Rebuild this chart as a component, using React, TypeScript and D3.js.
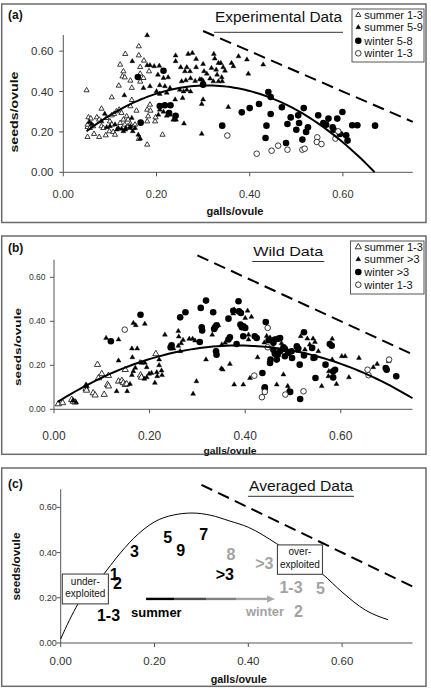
import React from 'react';
import * as d3 from 'd3';

const FONT = '"Liberation Sans", Arial, Helvetica, sans-serif';

// ---------- axis ticks ----------
const X_TICKS = [0, 0.2, 0.4, 0.6];
const Y_TICKS = [0, 0.2, 0.4, 0.6];
const X_MAX = 0.75;
const Y_MAX = 0.68;

// ---------- panel (a): experimental data ----------
const A_SUMMER_13: [number, number][] = [
  [0.05,0.406],[0.052,0.224],[0.054,0.272],[0.059,0.266],[0.052,0.236],[0.057,0.219],[0.052,0.175],[0.064,0.228],
  [0.066,0.19],[0.072,0.272],[0.077,0.261],[0.077,0.175],[0.082,0.228],[0.082,0.315],[0.086,0.219],[0.091,0.183],
  [0.093,0.269],[0.1,0.252],[0.104,0.282],[0.104,0.236],[0.104,0.371],[0.099,0.203],[0.107,0.2],[0.109,0.289],
  [0.111,0.186],[0.114,0.302],[0.119,0.429],[0.12,0.31],[0.122,0.244],[0.122,0.533],[0.125,0.294],[0.127,0.475],
  [0.129,0.5],[0.129,0.261],[0.132,0.47],[0.132,0.236],[0.133,0.586],[0.136,0.277],[0.139,0.261],[0.139,0.228],
  [0.144,0.454],[0.144,0.327],[0.144,0.239],[0.147,0.418],[0.15,0.219],[0.154,0.236],[0.157,0.305],[0.162,0.624],
  [0.162,0.579],[0.162,0.165],[0.165,0.521],[0.165,0.488],[0.172,0.467],[0.173,0.553],[0.18,0.31],[0.18,0.252],
  [0.18,0.137],[0.182,0.277],[0.184,0.5],[0.187,0.305],[0.197,0.252],[0.198,0.272],[0.213,0.186],[0.147,0.358],
  [0.165,0.449],[0.186,0.335]
];
const A_SUMMER_59: [number, number][] = [
  [0.18,0.678],[0.148,0.55],[0.131,0.381],[0.18,0.53],[0.186,0.53],[0.195,0.525],[0.206,0.527],[0.203,0.483],
  [0.215,0.467],[0.225,0.47],[0.207,0.431],[0.218,0.426],[0.229,0.417],[0.172,0.417],[0.186,0.426],[0.2,0.401],
  [0.207,0.388],[0.222,0.393],[0.241,0.578],[0.241,0.55],[0.252,0.52],[0.265,0.52],[0.268,0.586],[0.277,0.591],
  [0.285,0.561],[0.261,0.5],[0.272,0.5],[0.285,0.52],[0.254,0.45],[0.263,0.455],[0.273,0.465],[0.283,0.452],
  [0.293,0.46],[0.3,0.452],[0.25,0.408],[0.258,0.4],[0.265,0.408],[0.273,0.4],[0.24,0.36],[0.256,0.368],
  [0.259,0.241],[0.297,0.19],[0.3,0.36],[0.297,0.338],[0.161,0.186],[0.165,0.167],[0.133,0.211],[0.143,0.219],
  [0.149,0.203],[0.207,0.31],[0.215,0.3],[0.222,0.28],[0.229,0.285],[0.236,0.26],[0.204,0.285],[0.24,0.277],
  [0.242,0.26],[0.056,0.249],[0.061,0.239],[0.1,0.228],[0.111,0.236],[0.118,0.219],[0.125,0.215],[0.134,0.219],
  [0.144,0.228],[0.129,0.203],[0.115,0.211],[0.093,0.223],[0.082,0.252],[0.089,0.289],[0.147,0.269],[0.154,0.219],
  [0.3,0.536],[0.302,0.5],[0.297,0.459],[0.308,0.488],[0.323,0.586],[0.325,0.563],[0.333,0.541],[0.338,0.541],
  [0.318,0.516],[0.328,0.508],[0.343,0.52],[0.347,0.503],[0.34,0.47],[0.333,0.45],[0.322,0.45],[0.341,0.45],
  [0.315,0.464],[0.33,0.483],[0.361,0.541],[0.365,0.525],[0.376,0.574],[0.394,0.558],[0.397,0.488],[0.429,0.533],
  [0.354,0.323]
];
const A_WINTER_58: [number, number][] = [
  [0.16,0.472],[0.215,0.503],[0.166,0.246],[0.207,0.328],[0.218,0.332],[0.23,0.332],[0.227,0.294],[0.241,0.28],
  [0.3,0.434],[0.44,0.398],[0.445,0.373],[0.383,0.297],[0.4,0.318],[0.42,0.338],[0.341,0.231],[0.445,0.289],
  [0.469,0.322],[0.436,0.231],[0.434,0.17],[0.478,0.145],[0.488,0.272],[0.481,0.239],[0.504,0.282],[0.506,0.244],
  [0.5,0.211],[0.516,0.318],[0.525,0.223],[0.521,0.2],[0.513,0.162],[0.547,0.282],[0.558,0.244],[0.564,0.236],
  [0.569,0.266],[0.578,0.223],[0.588,0.266],[0.599,0.299],[0.594,0.19],[0.607,0.183],[0.61,0.157],[0.62,0.233],
  [0.631,0.233],[0.669,0.231],[0.58,0.211]
];
const A_WINTER_13: [number, number][] = [
  [0.352,0.182],[0.415,0.092],[0.447,0.107],[0.461,0.132],[0.481,0.112],[0.513,0.112],[0.518,0.117],[0.545,0.173],
  [0.544,0.15],[0.554,0.14],[0.584,0.167],[0.59,0.203]
];
const A_LEGEND = ['summer 1-3', 'summer 5-9', 'winter 5-8', 'winter 1-3'];
// quadratic trend: y = peak - k (x - x0)^2
const A_TREND = { peak: 0.43, x0: 0.31, k: 3.35, from: 0.05, to: 0.668 };

// ---------- panel (b): wild data ----------
const B_SUMMER_13: [number, number][] = [
  [0.009,0.024],[0.018,0.029],[0.037,0.044],[0.04,0.036],[0.044,0.032],[0.067,0.094],[0.068,0.086],[0.082,0.074],
  [0.086,0.064],[0.091,0.203],[0.093,0.142],[0.1,0.161],[0.105,0.067],[0.112,0.112],[0.114,0.105],[0.114,0.153],
  [0.135,0.127],[0.142,0.13],[0.145,0.12],[0.149,0.112],[0.152,0.115],[0.149,0.18],[0.181,0.155],[0.183,0.145],
  [0.213,0.252]
];
const B_SUMMER_GT3: [number, number][] = [
  [0.04,0.04],[0.046,0.032],[0.067,0.112],[0.069,0.104],[0.109,0.324],[0.135,0.317],[0.135,0.221],[0.131,0.082],
  [0.153,0.082],[0.159,0.115],[0.163,0.155],[0.166,0.173],[0.17,0.188],[0.163,0.276],[0.174,0.276],[0.164,0.236],
  [0.166,0.392],[0.171,0.382],[0.19,0.388],[0.18,0.214],[0.183,0.211],[0.19,0.211],[0.194,0.191],[0.199,0.161],
  [0.204,0.165],[0.194,0.145],[0.189,0.138],[0.215,0.168],[0.22,0.226],[0.22,0.2],[0.225,0.176],[0.226,0.155],
  [0.211,0.12],[0.216,0.15],[0.232,0.339],[0.244,0.276],[0.25,0.276],[0.26,0.288],[0.266,0.3],[0.27,0.315],
  [0.26,0.355],[0.261,0.33],[0.283,0.32],[0.29,0.32],[0.295,0.312],[0.291,0.07],[0.298,0.127],[0.318,0.226],
  [0.331,0.339],[0.353,0.18],[0.351,0.294],[0.264,0.264],[0.377,0.453],[0.375,0.435],[0.4,0.415],[0.405,0.448],
  [0.413,0.42],[0.344,0.382],[0.358,0.302],[0.368,0.206],[0.35,0.185],[0.407,0.339],[0.407,0.317],[0.426,0.236],
  [0.41,0.142],[0.377,0.112],[0.396,0.112],[0.44,0.303],[0.445,0.333],[0.452,0.326],[0.455,0.31],[0.476,0.3],
  [0.486,0.276],[0.511,0.265],[0.48,0.158],[0.489,0.105],[0.491,0.089],[0.516,0.332],[0.53,0.321],[0.542,0.321],
  [0.546,0.306],[0.535,0.294],[0.525,0.271],[0.553,0.264],[0.56,0.105],[0.575,0.173],[0.574,0.15],[0.582,0.32],
  [0.582,0.226],[0.591,0.115],[0.602,0.241],[0.609,0.241],[0.617,0.145],[0.638,0.233],[0.668,0.191],[0.676,0.206],
  [0.7,0.218],[0.466,0.112]
];
const B_WINTER_GT3: [number, number][] = [
  [0.119,0.309],[0.181,0.43],[0.246,0.291],[0.244,0.282],[0.264,0.418],[0.275,0.441],[0.307,0.461],[0.318,0.494],
  [0.309,0.373],[0.31,0.358],[0.333,0.441],[0.305,0.306],[0.337,0.373],[0.335,0.365],[0.339,0.264],[0.34,0.248],
  [0.34,0.382],[0.365,0.412],[0.375,0.448],[0.386,0.491],[0.387,0.445],[0.391,0.438],[0.39,0.385],[0.393,0.373],
  [0.396,0.377],[0.4,0.37],[0.368,0.327],[0.365,0.317],[0.396,0.332],[0.42,0.332],[0.424,0.324],[0.382,0.297],
  [0.443,0.397],[0.449,0.314],[0.459,0.302],[0.462,0.317],[0.469,0.321],[0.473,0.324],[0.459,0.271],[0.462,0.252],
  [0.468,0.248],[0.473,0.264],[0.48,0.282],[0.483,0.274],[0.49,0.256],[0.497,0.264],[0.508,0.286],[0.511,0.276],
  [0.453,0.226],[0.466,0.226],[0.452,0.211],[0.483,0.241],[0.498,0.233],[0.514,0.203],[0.523,0.245],[0.523,0.35],
  [0.54,0.279],[0.543,0.233],[0.545,0.236],[0.436,0.165],[0.441,0.1],[0.441,0.094],[0.494,0.079],[0.515,0.047],
  [0.547,0.142],[0.568,0.203],[0.577,0.297],[0.581,0.289],[0.584,0.173],[0.588,0.18],[0.584,0.145],[0.694,0.188],
  [0.696,0.18],[0.716,0.15]
];
const B_WINTER_13: [number, number][] = [
  [0.148,0.362],[0.447,0.37],[0.447,0.282],[0.419,0.153],[0.435,0.055],[0.441,0.079],[0.484,0.067],[0.522,0.082],
  [0.656,0.18],[0.658,0.155],[0.701,0.226]
];
const B_LEGEND = ['summer 1-3', 'summer >3', 'winter >3', 'winter 1-3'];
const B_TREND = { peak: 0.29, x0: 0.385, k: 1.8, from: 0.008, to: 0.75 };

// ---------- panel (c): averaged data ----------
const C_CURVE: [number, number][] = [
  [0,0.018],[0.037,0.173],[0.092,0.305],[0.12,0.38],[0.155,0.462],[0.2,0.536],[0.24,0.566],[0.28,0.575],
  [0.32,0.565],[0.36,0.54],[0.4,0.512],[0.46,0.44],[0.5,0.385],[0.558,0.305],[0.6,0.225],[0.65,0.145],[0.698,0.103]
];
const C_TEXT = ['1', '2', '3', '5', '9', '7', '>3', '1-3', '8', '>3', '1-3', '5', '2'];
const C_X = [0.114, 0.121, 0.157, 0.228, 0.256, 0.305, 0.35, 0.102, 0.363, 0.434, 0.491, 0.554, 0.507];
const C_Y = [0.301, 0.264, 0.407, 0.466, 0.41, 0.482, 0.301, 0.121, 0.392, 0.353, 0.244, 0.239, 0.139];
const C_SEASON = ['s', 's', 's', 's', 's', 's', 's', 's', 'w', 'w', 'w', 'w', 'w'];
const C_SEASON_WORDS = ['summer', 'winter'];
const C_SEASON_WORD_X = [0.204, 0.4356];
const C_SEASON_WORD_Y = [0.116, 0.118];
const C_ARROW = { x1: 0.182, x2: 0.457, y: 0.195 };
const C_BOXES = [
  { lines: ['under-', 'exploited'], x1: 0.0034, x2: 0.1016, y1: 0.305, y2: 0.173 },
  { lines: ['over-', 'exploited'], x1: 0.462, x2: 0.558, y1: 0.434, y2: 0.304 },
];
// dashed upper limit: seeds + galls = 1
const LIMIT = { from: 0.3, to: 0.75 };

const fmt = d3.format('.2f');
const GRAY = '#a3a3a3';

type Kind = 'triOpen' | 'triFill' | 'circFill' | 'circOpen';

const Marker = ({ kind, x, y, big }: { kind: Kind; x: number; y: number; big?: boolean }) => {
  if (kind === 'triOpen' || kind === 'triFill') {
    const size = kind === 'triOpen' ? (big ? 17 : 11.5) : 10.5;
    const p = d3.symbol().type(d3.symbolTriangle).size(size)() as string;
    return (
      <path
        d={p}
        transform={`translate(${x},${y})`}
        fill={kind === 'triFill' ? '#000' : '#fff'}
        stroke={kind === 'triFill' ? '#000' : '#222'}
        strokeWidth={kind === 'triFill' ? 0.4 : 0.9}
      />
    );
  }
  if (kind === 'circFill') return <circle cx={x} cy={y} r={3.3} fill="#000" />;
  return <circle cx={x} cy={y} r={2.8} fill="#fff" stroke="#222" strokeWidth={0.9} />;
};

interface Layout {
  frameY: number; frameH: number;
  xl: number; xr: number; yb: number; yt: number;
  yTickSize: number; yTickX: number; xTickSize: number; xTickY: number;
  xTitle: { x: number; y: number; len: number; size: number };
  yTitle: { x: number; y: number; len: number; size: number };
  title: { text: string; x1: number; x2: number; base: number; ul: number; size: number };
  tag: { text: string; y: number };
}

const Frame = ({ L, children }: { L: Layout; children?: React.ReactNode }) => {
  const x = d3.scaleLinear().domain([0, X_MAX]).range([L.xl, L.xr]);
  const y = d3.scaleLinear().domain([0, Y_MAX]).range([L.yb, L.yt]);
  return (
    <g>
      <rect x={1.7} y={L.frameY} width={424.3} height={L.frameH} fill="#fff" stroke="#6b6b6b" strokeWidth={1.5} />
      {/* axes */}
      <line x1={L.xl} x2={L.xl} y1={L.yb} y2={y(Y_MAX)} stroke="#555" strokeWidth={1} />
      <line x1={L.xl} x2={x(X_MAX)} y1={L.yb} y2={L.yb} stroke="#555" strokeWidth={1} />
      {Y_TICKS.map((t) => (
        <g key={'yt' + t}>
          <line x1={L.xl - 4} x2={L.xl} y1={y(t)} y2={y(t)} stroke="#555" />
          <text x={L.yTickX} y={y(t)} textAnchor="end" dominantBaseline="central" fontSize={L.yTickSize} fill="#333">{fmt(t)}</text>
        </g>
      ))}
      {X_TICKS.map((t) => (
        <g key={'xt' + t}>
          <line x1={x(t)} x2={x(t)} y1={L.yb} y2={L.yb + 4} stroke="#555" />
          <text x={x(t)} y={L.xTickY} textAnchor="middle" dominantBaseline="central" fontSize={L.xTickSize} fill="#333">{fmt(t)}</text>
        </g>
      ))}
      <text x={L.xTitle.x} y={L.xTitle.y} textAnchor="middle" dominantBaseline="central" fontWeight="bold"
        fontSize={L.xTitle.size} textLength={L.xTitle.len} lengthAdjust="spacingAndGlyphs" fill="#111">galls/ovule</text>
      <text transform={`translate(${L.yTitle.x},${L.yTitle.y}) rotate(-90)`} textAnchor="middle" dominantBaseline="central"
        fontWeight="bold" fontSize={L.yTitle.size} textLength={L.yTitle.len} lengthAdjust="spacingAndGlyphs" fill="#111">seeds/ovule</text>
      <text x={8} y={L.tag.y} fontWeight="bold" fontSize={12} fill="#111">{L.tag.text}</text>
      <text x={L.title.x1} y={L.title.base} fontSize={L.title.size} textLength={L.title.x2 - L.title.x1}
        lengthAdjust="spacingAndGlyphs" fill="#111">{L.title.text}</text>
      <line x1={L.title.x1 - 1} x2={L.title.x2 + 1} y1={L.title.ul} y2={L.title.ul} stroke="#333" strokeWidth={1} />
      {/* dashed limit */}
      <line x1={x(LIMIT.from)} y1={y(1 - LIMIT.from)} x2={x(LIMIT.to)} y2={y(1 - LIMIT.to)}
        stroke="#000" strokeWidth={2} strokeDasharray="12,6.5" />
      {children}
    </g>
  );
};

const Legend = ({ x0, y0, rows, labels, kinds, big }: { x0: number; y0: number; rows: number[]; labels: string[]; kinds: Kind[]; big?: boolean }) => (
  <g>
    <rect x={x0} y={y0} width={424 - x0} height={53} fill="#fff" stroke="#555" strokeWidth={1} />
    {labels.map((lab, i) => (
      <g key={lab}>
        <Marker kind={kinds[i]} x={358.3} y={rows[i]} big={big} />
        <text x={364.3} y={rows[i]} dominantBaseline="central" fontSize={11} fill="#111"
          textLength={i === 0 ? 58.5 : undefined}>{lab}</text>
      </g>
    ))}
  </g>
);

const trendPath = (t: { peak: number; x0: number; k: number; from: number; to: number }, x: any, y: any) => {
  const xs = d3.range(t.from, t.to + 1e-9, (t.to - t.from) / 80);
  return d3.line<number>().x((v) => x(v)).y((v) => y(Math.max(0, t.peak - t.k * (v - t.x0) * (v - t.x0))))(xs) as string;
};

const LA: Layout = {
  frameY: 4, frameH: 218.5, xl: 63.3, xr: 412.8, yb: 172.3, yt: 35,
  yTickSize: 11.5, yTickX: 53.5, xTickSize: 11, xTickY: 193.5,
  xTitle: { x: 235, y: 211, len: 57, size: 11 }, yTitle: { x: 13.5, y: 112, len: 81, size: 11 },
  title: { text: 'Experimental Data', x1: 215, x2: 342, base: 22.3, ul: 32.3, size: 14 }, tag: { text: '(a)', y: 19 },
};
const LB: Layout = {
  frameY: 236, frameH: 218.3, xl: 54, xr: 412.5, yb: 409.3, yt: 259.7,
  yTickSize: 8.5, yTickX: 45.5, xTickSize: 12, xTickY: 435.5,
  xTitle: { x: 230, y: 450.5, len: 53, size: 9.5 }, yTitle: { x: 17, y: 347, len: 78, size: 9.5 },
  title: { text: 'Wild Data', x1: 253.3, x2: 323.3, base: 256, ul: 261.5, size: 13 }, tag: { text: '(b)', y: 252 },
};
const LC: Layout = {
  frameY: 468, frameH: 218.3, xl: 60.7, xr: 412.5, yb: 643, yt: 489.3,
  yTickSize: 9, yTickX: 56.7, xTickSize: 11.5, xTickY: 660.7,
  xTitle: { x: 238.7, y: 679, len: 56, size: 11 }, yTitle: { x: 16.7, y: 566.5, len: 68, size: 10 },
  title: { text: 'Averaged Data', x1: 249, x2: 353, base: 491, ul: 496.3, size: 14 }, tag: { text: '(c)', y: 487.5 },
};

const scales = (L: Layout) => ({
  x: d3.scaleLinear().domain([0, X_MAX]).range([L.xl, L.xr]),
  y: d3.scaleLinear().domain([0, Y_MAX]).range([L.yb, L.yt]),
});

const PanelA = () => {
  const { x, y } = scales(LA);
  const series: [[number, number][], Kind][] = [
    [A_SUMMER_13, 'triOpen'], [A_SUMMER_59, 'triFill'], [A_WINTER_58, 'circFill'], [A_WINTER_13, 'circOpen'],
  ];
  return (
    <Frame L={LA}>
      {series.map(([pts, kind], si) => pts.map((p, i) => <Marker key={si + '-' + i} kind={kind} x={x(p[0])} y={y(p[1])} />))}
      <path d={trendPath(A_TREND, x, y)} fill="none" stroke="#000" strokeWidth={2} />
      <Legend x0={352} y0={9} rows={[15, 27.3, 40.7, 53.3]} labels={A_LEGEND} kinds={['triOpen', 'triFill', 'circFill', 'circOpen']} />
    </Frame>
  );
};

const PanelB = () => {
  const { x, y } = scales(LB);
  const series: [[number, number][], Kind][] = [
    [B_SUMMER_13, 'triOpen'], [B_SUMMER_GT3, 'triFill'], [B_WINTER_GT3, 'circFill'], [B_WINTER_13, 'circOpen'],
  ];
  return (
    <Frame L={LB}>
      {series.map(([pts, kind], si) => pts.map((p, i) => <Marker key={si + '-' + i} kind={kind} x={x(p[0])} y={y(p[1])} big />))}
      <path d={trendPath(B_TREND, x, y)} fill="none" stroke="#000" strokeWidth={2} />
      <Legend x0={350.5} y0={241} rows={[247, 259.3, 272, 284.7]} labels={B_LEGEND} kinds={['triOpen', 'triFill', 'circFill', 'circOpen']} big />
    </Frame>
  );
};

const PanelC = () => {
  const { x, y } = scales(LC);
  const curve = d3.line<[number, number]>().x((d) => x(d[0])).y((d) => y(d[1])).curve(d3.curveMonotoneX)(C_CURVE) as string;
  const ax1 = x(C_ARROW.x1), ax2 = x(C_ARROW.x2), ay = y(C_ARROW.y);
  return (
    <Frame L={LC}>
      <defs>
        <linearGradient id="arrowGrad" x1="0" x2="1" y1="0" y2="0">
          <stop offset="0" stopColor="#000" />
          <stop offset="0.23" stopColor="#000" />
          <stop offset="0.23" stopColor="#4d4d4d" />
          <stop offset="0.49" stopColor="#4d4d4d" />
          <stop offset="0.49" stopColor="#808080" />
          <stop offset="0.74" stopColor="#808080" />
          <stop offset="0.74" stopColor="#a8a8a8" />
          <stop offset="1" stopColor="#a8a8a8" />
        </linearGradient>
      </defs>
      <path d={curve} fill="none" stroke="#000" strokeWidth={1} />
      {C_BOXES.map((b, i) => {
        const bx = x(b.x1), by = y(b.y1), bw = x(b.x2) - x(b.x1), bh = y(b.y2) - y(b.y1);
        return (
          <g key={'box' + i}>
            <rect x={bx} y={by} width={bw} height={bh} fill="#fff" stroke="#333" strokeWidth={1} />
            {b.lines.map((ln, j) => (
              <text key={ln} x={bx + bw / 2} y={by + bh * (j === 0 ? 0.24 : 0.65)} textAnchor="middle" dominantBaseline="central"
                fontSize={10} fill="#111">{ln}</text>
            ))}
          </g>
        );
      })}
      <rect x={ax1} y={ay - 1.2} width={ax2 - 7 - ax1} height={2.4} fill="url(#arrowGrad)" />
      <path d={`M${ax2 - 8},${ay - 3.5}L${ax2},${ay}L${ax2 - 8},${ay + 3.5}Z`} fill="#a8a8a8" />
      {C_TEXT.map((t, i) => (
        <text key={'c' + i} x={x(C_X[i])} y={y(C_Y[i])} textAnchor="middle" dominantBaseline="central" fontWeight="bold"
          fontSize={16} fill={C_SEASON[i] === 's' ? '#000' : GRAY}>{t}</text>
      ))}
      {C_SEASON_WORDS.map((w, i) => (
        <text key={w} x={x(C_SEASON_WORD_X[i])} y={y(C_SEASON_WORD_Y[i])} textAnchor="middle" fontWeight="bold" fontSize={13}
          fill={i === 0 ? '#000' : GRAY}>{w}</text>
      ))}
    </Frame>
  );
};

export default function App() {
  return (
    <svg width={431} height={696} style={{ position: 'absolute', left: 0, top: 0, fontFamily: FONT, background: '#fff' }}>
      <rect width={431} height={696} fill="#fff" />
      <PanelA />
      <PanelB />
      <PanelC />
    </svg>
  );
}
